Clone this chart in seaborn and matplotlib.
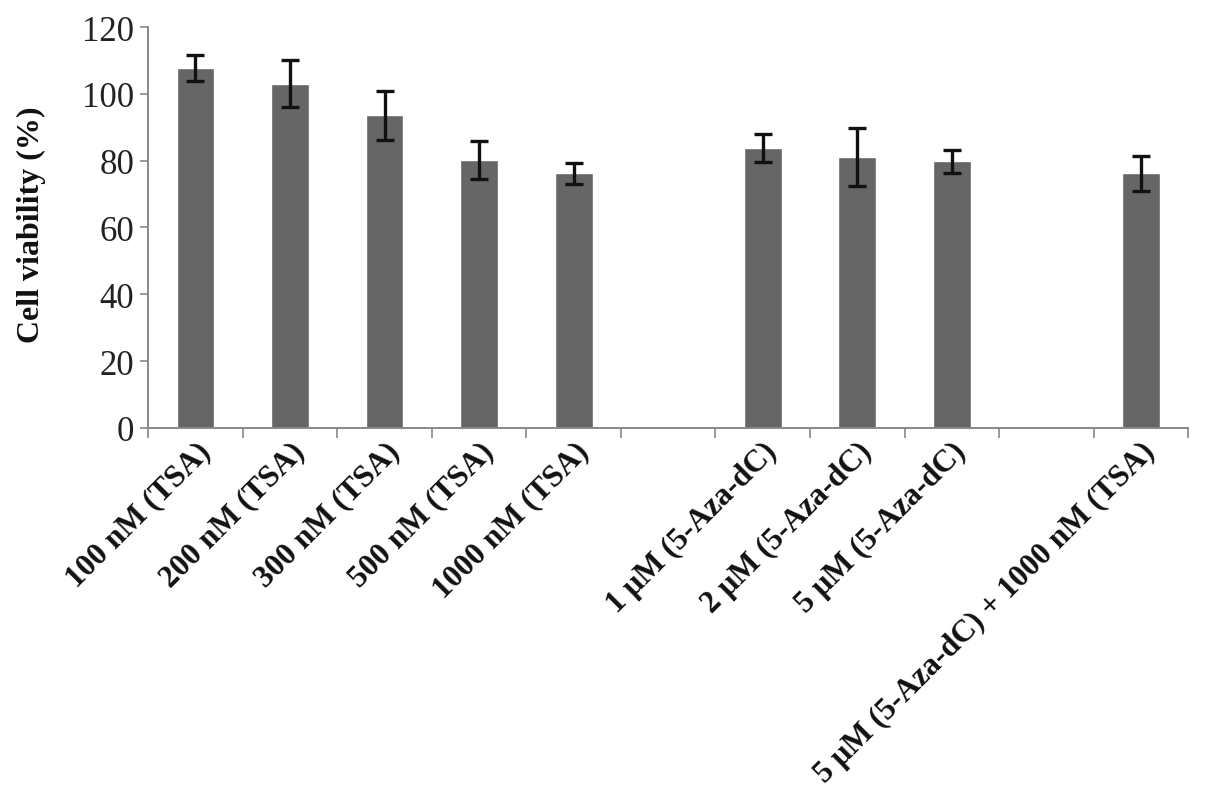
import matplotlib
matplotlib.use("Agg")
import matplotlib.pyplot as plt
import matplotlib.ticker as mticker
import numpy as np
import pandas as pd
import seaborn as sns

# treatments, with blank slots that separate the groups
categories = ["100 nM (TSA)", "200 nM (TSA)", "300 nM (TSA)", "500 nM (TSA)",
              "1000 nM (TSA)", "", "1 μM (5-Aza-dC)", "2 μM (5-Aza-dC)",
              "5 μM (5-Aza-dC)", " ", "5 μM (5-Aza-dC) + 1000 nM (TSA)"]
viability = [107.7, 103.1, 93.6, 80.2, 76.2, np.nan, 83.7, 81.2, 79.8, np.nan, 76.2]
sd = [3.9, 7.1, 7.3, 5.6, 3.2, np.nan, 4.2, 8.7, 3.5, np.nan, 5.3]

df = pd.DataFrame({"treatment": categories, "viability": viability, "sd": sd})

sns.set_style("white")
plt.rcParams["font.family"] = ["Liberation Serif", "DejaVu Serif"]

fig, ax = plt.subplots(figsize=(12.05, 8.03), dpi=100)
fig.subplots_adjust(left=0.123, right=0.986, top=0.965, bottom=0.466)

bars = df.dropna(subset=["viability"])
sns.barplot(data=bars, x="treatment", y="viability", order=categories,
            color="#666666", saturation=1, width=0.4, errorbar=None, ax=ax)

pos = [categories.index(t) for t in bars["treatment"]]
ax.errorbar(pos, bars["viability"], yerr=bars["sd"], fmt="none",
            ecolor="#111111", elinewidth=2.4, capsize=6.5, capthick=2.4)

ax.set_ylim(0, 120)
ax.set_xlim(-0.5, len(categories) - 0.5)
ax.set_yticks(range(0, 121, 20))
ax.tick_params(axis="y", labelsize=25, direction="out", length=6, width=1.2,
               color="#888888", left=True, pad=4, labelcolor="#222222")

# ticks on category boundaries, labels at centres
ax.xaxis.set_major_locator(mticker.FixedLocator(np.arange(-0.5, len(categories), 1)))
ax.xaxis.set_major_formatter(mticker.NullFormatter())
ax.xaxis.set_minor_locator(mticker.FixedLocator(np.arange(len(categories))))
ax.xaxis.set_minor_formatter(mticker.FixedFormatter(categories))
ax.tick_params(axis="x", which="major", direction="out", length=7, width=1.2,
               color="#888888", bottom=True)
ax.tick_params(axis="x", which="minor", length=0, pad=6)
for lab in ax.xaxis.get_minorticklabels():
    lab.set_rotation(45)
    lab.set_ha("right")
    lab.set_rotation_mode("anchor")
    lab.set_fontsize(22.5)
    lab.set_fontweight("bold")
    lab.set_color("#111111")

ax.set_xlabel("")
ax.set_ylabel("Cell viability (%)", fontsize=23, fontweight="bold", color="#111111")
ax.yaxis.set_label_coords(-0.098, 0.51)

for side in ["top", "right"]:
    ax.spines[side].set_visible(False)
for side in ["left", "bottom"]:
    ax.spines[side].set_color("#888888")
    ax.spines[side].set_linewidth(1.4)

fig.savefig("out.png", dpi=100)
